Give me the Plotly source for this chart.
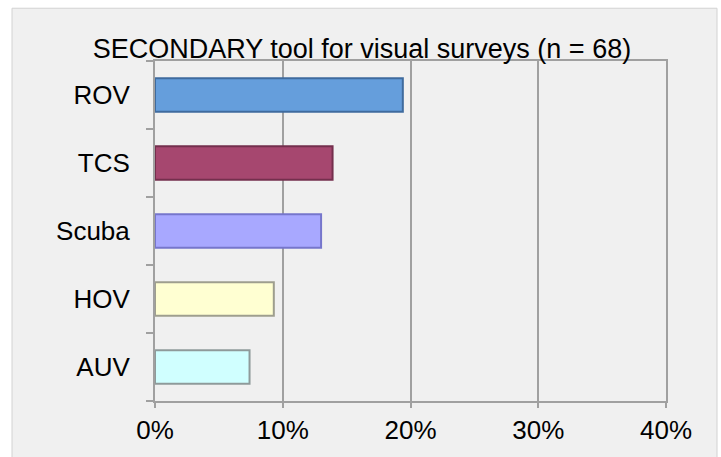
import plotly.graph_objects as go

# Survey tools, shares (%)
tools = ["AUV", "HOV", "Scuba", "TCS", "ROV"]
share = [7.4, 9.3, 13.0, 13.9, 19.4]
fill_colors = ["#D0FFFF", "#FFFFD2", "#A8A8FF", "#A6476F", "#659EDC"]
edge_colors = ["#8E9A9A", "#9E9E8E", "#7676CC", "#742F4D", "#3F6B9E"]
x_ticks = [0, 10, 20, 30, 40]
x_labels = ["0%", "10%", "20%", "30%", "40%"]

W, H = 721, 457
L, R, T, B = 155, 55, 61, 48
pw, ph = W - L - R, H - T - B

fig = go.Figure(go.Bar(
    x=share, y=tools, orientation="h", width=0.49,
    marker=dict(color=fill_colors, line=dict(color=edge_colors, width=2)),
    hoverinfo="skip",
))

# chart area box (light grey with faint border)
fig.add_shape(
    type="rect", xref="paper", yref="paper", layer="below",
    x0=(12 - L) / pw, x1=(717 - L) / pw,
    y0=-(470 - T - ph) / ph, y1=(H - B - 7) / ph,
    fillcolor="#F0F0F0", line=dict(color="#D2D2D2", width=1),
)

fig.update_layout(
    width=W, height=H,
    margin=dict(l=L, r=R, t=T, b=B),
    paper_bgcolor="white",
    plot_bgcolor="rgba(0,0,0,0)",
    showlegend=False,
    font=dict(family="Liberation Sans, Arial, sans-serif", size=26, color="black"),
    title=dict(
        text="SECONDARY tool for visual surveys (n = 68)",
        xref="container", x=0.502, xanchor="center",
        yref="container", y=1 - 49 / H, yanchor="middle",
        font=dict(size=27, color="black"),
    ),
    xaxis=dict(
        range=[0, 40], tickvals=x_ticks, ticktext=x_labels,
        showgrid=True, gridcolor="#A0A0A0", gridwidth=2,
        showline=True, linecolor="#A0A0A0", linewidth=2, mirror=True,
        ticks="outside", ticklen=5, tickcolor="#A0A0A0", tickwidth=2,
        zeroline=False, fixedrange=True,
    ),
    yaxis=dict(
        categoryorder="array", categoryarray=tools,
        range=[-0.5, 4.5],
        showgrid=False,
        showline=True, linecolor="#A0A0A0", linewidth=2, mirror=True,
        ticks="outside", ticklen=7, tickcolor="#A0A0A0", tickwidth=2,
        tickson="boundaries", ticklabelstandoff=18,
        zeroline=False, fixedrange=True,
    ),
)

fig.write_html("out.html", config={"displayModeBar": False},
               post_script="document.body.style.margin='0';document.body.style.overflow='hidden';")
